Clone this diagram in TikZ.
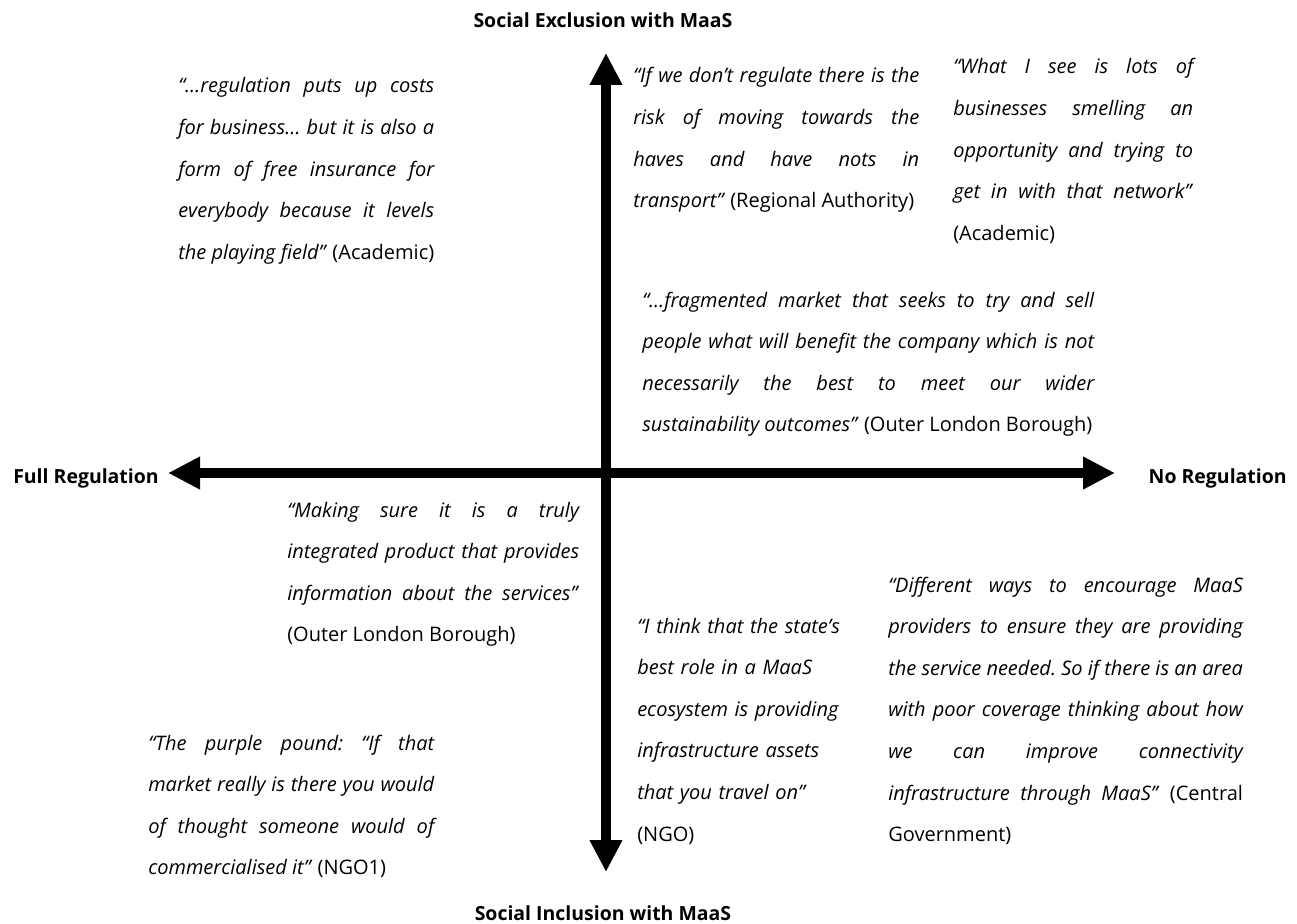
\documentclass[tikz,border=0pt]{standalone}
\usepackage{fontspec}
\setmainfont{Open Sans}
\usetikzlibrary{arrows.meta}
\frenchspacing
\hyphenpenalty=10000
\exhyphenpenalty=10000
\begin{document}
\begin{tikzpicture}[x=0.75pt,y=-0.75pt,
  quote/.style={anchor=base west, inner sep=0pt, align=justify, font=\fontsize{15}{31.2}\selectfont},
  ragged/.style={anchor=base west, inner sep=0pt, align=left, font=\fontsize{15}{31.2}\selectfont},
  axislabel/.style={font=\fontsize{14.6}{18}\selectfont\bfseries, inner sep=0pt},
  axis/.style={line width=7.5pt, {Triangle[width=23pt,length=24pt]}-{Triangle[width=23pt,length=24pt]}}]
\useasboundingbox (0,0) rectangle (1297,924);

% axes
\coordinate (top) at (606,53);
\coordinate (bottom) at (606,872);
\coordinate (left) at (168,473);
\coordinate (right) at (1115,473);
\draw[axis] (top) -- (bottom);
\draw[axis] (left) -- (right);

% axis labels
\node[axislabel, anchor=base] (excl) at (603,28) {Social Exclusion with MaaS};
\node[axislabel, anchor=base] (incl) at (603,920) {Social Inclusion with MaaS};
\node[axislabel, anchor=base west] (full) at (13,483) {Full Regulation};
\node[axislabel, anchor=base east] (none) at (1287,483) {No Regulation};

% quotes
\node[quote, text width=192pt] (q1) at (178,93) {\textit{“…regulation puts up costs\linebreak for business… but it is also a\linebreak form of free insurance for\linebreak everybody because it levels\linebreak the playing field”} (Academic)};

\node[quote, text width=214.5pt] (q2) at (633,83) {\textit{“If we don’t regulate there is the\linebreak risk of moving towards the\linebreak haves and have nots in}\linebreak \mbox{\textit{transport”} (Regional Authority)}};

\node[quote, text width=180pt] (q3) at (953,74) {\textit{“What I see is lots of\linebreak businesses smelling an\linebreak opportunity and trying to\linebreak get in with that network”}\linebreak (Academic)};

\node[quote, text width=339pt] (q4) at (642,307) {\textit{“…fragmented market that seeks to try and sell\linebreak people what will benefit the company which is not\linebreak necessarily the best to meet our wider\linebreak sustainability outcomes”} (Outer London Borough)};

\node[quote, text width=219pt] (q5) at (287,517) {\textit{“Making sure it is a truly\linebreak integrated product that provides\linebreak information about the services”}\linebreak (Outer London Borough)};

\node[ragged, text width=160pt] (q6) at (637,633) {\textit{“I think that the state’s\\ best role in a MaaS\\ ecosystem is providing\\ infrastructure assets\\ that you travel on”}\\ (NGO)};

\node[quote, text width=266pt] (q7) at (888,592) {\textit{“Different ways to encourage MaaS\linebreak providers to ensure they are providing\linebreak the service needed. So if there is an area\linebreak with poor coverage thinking about how\linebreak we can improve connectivity\linebreak infrastructure through MaaS”} (Central\linebreak Government)};

\node[quote, text width=214.5pt] (q8) at (148,750) {\textit{“The purple pound: “If that\linebreak market really is there you would\linebreak of thought someone would of\linebreak commercialised it”} (NGO1)};
\end{tikzpicture}
\end{document}
